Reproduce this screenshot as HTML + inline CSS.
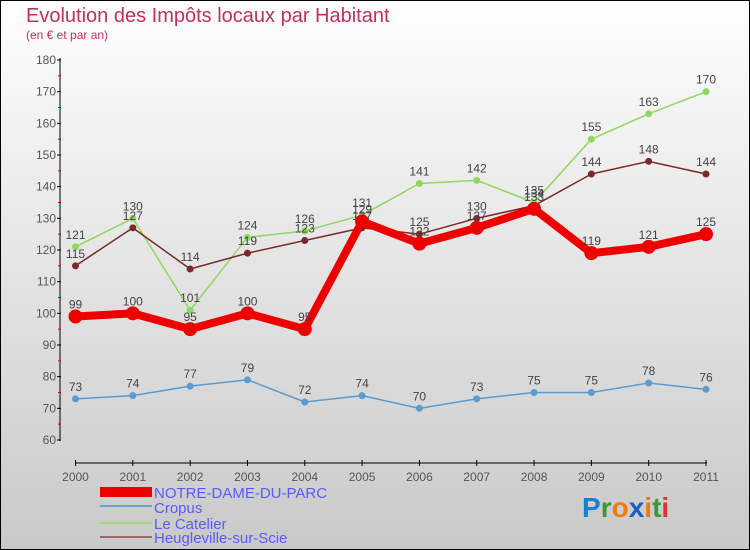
<!DOCTYPE html>
<html><head><meta charset="utf-8"><style>
body{margin:0}
#c{position:relative;width:750px;height:550px;box-sizing:border-box;border:1px solid #000;background:linear-gradient(#fefefe,#c9c9c9);font-family:"Liberation Sans",sans-serif;overflow:hidden}
</style></head><body>
<div id="c">
<svg width="750" height="550" style="position:absolute;left:-1px;top:-1px" id="s">
<text x="26" y="22" font-size="20" fill="#c0305f">Evolution des Impôts locaux par Habitant</text>
<text x="26" y="39" font-size="12" fill="#c0305f">(en € et par an)</text>
<g id="ax"></g><g id="ser"></g>
<g>
<rect x="100" y="487" width="52" height="10" fill="#e00"/>
<text x="154" y="498" font-size="15" fill="#5a5aff">NOTRE-DAME-DU-PARC</text>
<rect x="100" y="505" width="52" height="2" fill="#6fa1d0"/>
<text x="154" y="513" font-size="15" fill="#5a5aff">Cropus</text>
<rect x="100" y="522" width="52" height="2" fill="#9ed87a"/>
<text x="154" y="529" font-size="15" fill="#5a5aff">Le Catelier</text>
<rect x="100" y="536" width="52" height="2" fill="#9a6a6a"/>
<text x="154" y="543" font-size="15" fill="#5a5aff">Heugleville-sur-Scie</text>
</g>
<g font-size="28" font-weight="bold" font-family="'Liberation Sans',sans-serif">
<text x="582" y="517"><tspan fill="#1a7fd0">P</tspan><tspan fill="#3a9a3a">r</tspan><tspan fill="#f07a10">o</tspan><tspan fill="#1a5fc0">x</tspan><tspan fill="#f07a10">i</tspan><tspan fill="#3a9a3a">t</tspan><tspan fill="#e03030">i</tspan></text>
</g>
</svg></div>
<script>
const years=[2000,2001,2002,2003,2004,2005,2006,2007,2008,2009,2010,2011];
const notreDame=[99,100,95,100,95,129,122,127,133,119,121,125];
const cropus=[73,74,77,79,72,74,70,73,75,75,78,76];
const leCatelier=[121,130,101,124,126,131,141,142,135,155,163,170];
const heugleville=[115,127,114,119,123,127,125,130,134,144,148,144];
const yTicks=[60,70,80,90,100,110,120,130,140,150,160,170,180];
const NS="http://www.w3.org/2000/svg";
const X=i=>75.5+i*(630.5/11);
const Y=v=>440-(v-60)*(380/120);
function mk(t,a,p){const e=document.createElementNS(NS,t);for(const k in a)e.setAttribute(k,a[k]);p.appendChild(e);return e;}
const ax=document.getElementById('ax'),ser=document.getElementById('ser');
let l=mk('line',{x1:60,y1:58,x2:60,y2:441,stroke:'#000'},ax);


l=mk('line',{x1:75,y1:463,x2:707,y2:463,stroke:'#000'},ax);


yTicks.forEach((v,i)=>{
 mk('line',{x1:57,x2:61,y1:Y(v),y2:Y(v),stroke:'#000'},ax);
 if(i<yTicks.length-1)mk('line',{x1:58,x2:61,y1:Y(v+5),y2:Y(v+5),stroke:'#d00'},ax);
 const t=mk('text',{x:56,y:Y(v)+4,'font-size':12,fill:'#555','text-anchor':'end'},ax);t.textContent=v;
 
 
});
years.forEach((y,i)=>{
 mk('line',{x1:X(i),x2:X(i),y1:460,y2:466,stroke:'#000'},ax);
 const t=mk('text',{x:X(i),y:481,'font-size':12,fill:'#555','text-anchor':'middle'},ax);t.textContent=y;
 
 
});
function series(d,col,w,r,name){
 const g=mk('g',{},ser);
 
 
 mk('polyline',{points:d.map((v,i)=>X(i)+','+Y(v)).join(' '),fill:'none',stroke:col,'stroke-width':w,'stroke-linejoin':'round'},g);
 d.forEach((v,i)=>{
  const c=mk('circle',{cx:X(i),cy:Y(v),r:r,fill:col},g);
  
  
  const t=mk('text',{x:X(i),y:Y(v)-8,'font-size':12,fill:'#444','text-anchor':'middle'},g);t.textContent=v;
  
  
 });
}
series(cropus,'#5b9bd0',1.5,3.5,'series-cropus');
series(leCatelier,'#8fd860',1.5,3.5,'series-le-catelier');
series(heugleville,'#7a2a2a',1.5,3.5,'series-heugleville');
series(notreDame,'#ee0000',8,7,'series-notre-dame');
</script>
</body></html>
